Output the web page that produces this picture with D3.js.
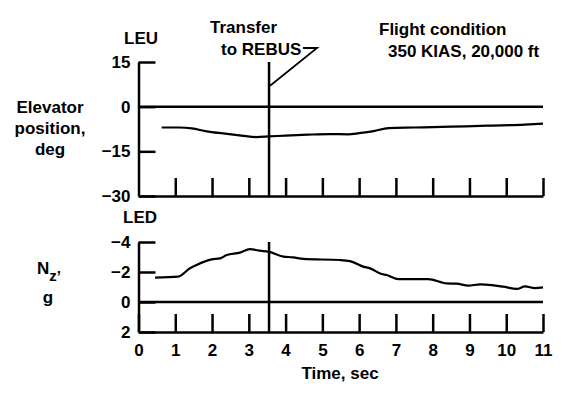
<!DOCTYPE html>
<html lang="en">
<head>
    <meta charset="UTF-8">
    <title>Elevator position and Nz - transfer to REBUS</title>
    <script src="https://d3js.org/d3.v7.min.js"></script>
    <style>
        body {
            margin: 0;
            padding: 0;
            background: #fff;
        }
        svg text {
            font-family: "Liberation Sans", Arial, Helvetica, sans-serif;
            font-weight: bold;
            font-size: 17px;
            fill: #000;
        }
        .axis path, .axis line {
            stroke: #000;
            stroke-width: 2.5px;
        }
        .trace {
            fill: none;
            stroke: #000;
            stroke-width: 2.2px;
            stroke-linejoin: round;
        }
        .ref {
            stroke: #000;
            stroke-width: 2.5px;
        }
    </style>
</head>
<body>
    <div id="canvas"></div>
    <script>
        // time ticks (sec)
        var timeTicks = [0, 1, 2, 3, 4, 5, 6, 7, 8, 9, 10, 11];
        var elevTicks = [15, 0, -15, -30];
        var nzTicks = [-4, -2, 0, 2];
        var transferTime = 3.55;

        // elevator position, deg
        var elevTime = [0.63, 1.1, 1.45, 1.85, 2.3, 2.8, 3.2, 3.55, 4.0, 4.6, 5.2, 5.7, 6.0, 6.4, 6.8, 7.5, 8.5, 9.5, 10.5, 11.0];
        var elevDeg  = [-7.0, -7.0, -7.3, -8.3, -9.0, -9.7, -10.2, -10.0, -9.7, -9.4, -9.2, -9.3, -8.9, -8.2, -7.2, -7.0, -6.7, -6.4, -6.0, -5.7];

        // normal acceleration Nz, g
        var nzTime = [0.45, 1.08, 1.4, 1.58, 1.99, 2.22, 2.4, 2.76, 3.03, 3.3, 3.53, 3.94, 4.21, 4.48, 5.48, 5.75, 6.11, 6.3, 6.61, 6.75, 7.07, 7.38, 7.88, 8.38, 8.65, 8.97, 9.29, 9.61, 9.92, 10.29, 10.51, 10.78, 11.0];
        var nzG    = [-1.62, -1.69, -2.25, -2.47, -2.84, -2.91, -3.13, -3.29, -3.53, -3.42, -3.36, -3.02, -2.98, -2.87, -2.8, -2.73, -2.36, -2.24, -1.87, -1.8, -1.53, -1.53, -1.53, -1.24, -1.22, -1.09, -1.18, -1.13, -1.02, -0.87, -1.04, -0.93, -0.98];

        var width = 562, height = 397;

        var svg = d3.select("#canvas")
            .append("svg")
            .attr("width", width)
            .attr("height", height);

        // scales
        var x = d3.scaleLinear().domain([0, 11]).range([138.5, 543]);
        var yTop = d3.scaleLinear().domain([-30, 15]).range([196, 62]);
        var yBot = d3.scaleLinear().domain([2, -4]).range([332, 242]);

        var intFmt = d3.format("d");

        // ---- top panel: elevator position
        svg.append("g")
            .attr("class", "axis")
            .attr("transform", "translate(" + x(0) + ",0)")
            .call(d3.axisLeft(yTop).tickValues(elevTicks).tickFormat(intFmt).tickSize(-17).tickSizeOuter(0).tickPadding(8))
            .call(function(g) { g.selectAll("text").attr("font-size", null).attr("font-family", null); });

        svg.append("g")
            .attr("class", "axis")
            .attr("transform", "translate(0," + yTop(-30) + ")")
            .call(d3.axisBottom(x).tickValues(timeTicks.slice(1)).tickSize(-18).tickSizeOuter(0).tickFormat(""));

        svg.append("line")
            .attr("class", "ref")
            .attr("x1", x(0)).attr("x2", x(11))
            .attr("y1", yTop(0)).attr("y2", yTop(0));

        svg.append("path")
            .datum(d3.zip(elevTime, elevDeg))
            .attr("class", "trace")
            .attr("d", d3.line().curve(d3.curveMonotoneX)
                .x(function(d) { return x(d[0]); })
                .y(function(d) { return yTop(d[1]); }));

        // ---- bottom panel: Nz
        svg.append("g")
            .attr("class", "axis")
            .attr("transform", "translate(" + x(0) + ",0)")
            .call(d3.axisLeft(yBot).tickValues(nzTicks).tickFormat(intFmt).tickSize(-17).tickSizeOuter(0).tickPadding(8))
            .call(function(g) { g.selectAll("text").attr("font-size", null).attr("font-family", null); });

        svg.append("g")
            .attr("class", "axis")
            .attr("transform", "translate(0," + yBot(2) + ")")
            .call(d3.axisBottom(x).tickValues(timeTicks).tickFormat(intFmt).tickSize(-18).tickSizeOuter(0).tickPadding(12))
            .call(function(g) { g.selectAll("text").attr("font-size", null).attr("font-family", null); });

        svg.append("line")
            .attr("class", "ref")
            .attr("x1", x(0)).attr("x2", x(11))
            .attr("y1", yBot(0)).attr("y2", yBot(0));

        svg.append("path")
            .datum(d3.zip(nzTime, nzG))
            .attr("class", "trace")
            .attr("d", d3.line().curve(d3.curveMonotoneX)
                .x(function(d) { return x(d[0]); })
                .y(function(d) { return yBot(d[1]); }));

        // ---- transfer marker
        svg.append("line")
            .attr("class", "ref")
            .attr("x1", x(transferTime)).attr("x2", x(transferTime))
            .attr("y1", yTop(15)).attr("y2", yTop(-30));

        svg.append("line")
            .attr("class", "ref")
            .attr("x1", x(transferTime)).attr("x2", x(transferTime))
            .attr("y1", yBot(-4)).attr("y2", yBot(2));

        svg.append("path")
            .attr("fill", "none")
            .attr("stroke", "#000")
            .attr("stroke-width", 1.8)
            .attr("d", d3.line()([[x(transferTime) + 1, yTop(7)], [x(transferTime) + 48, 48], [x(transferTime) + 34, 48]]));

        // ---- labels
        svg.append("text").attr("x", 210).attr("y", 27).attr("dy", "0.35em").text("Transfer");
        svg.append("text").attr("x", 221).attr("y", 49).attr("dy", "0.35em").text("to REBUS");

        svg.append("text").attr("x", 379).attr("y", 29).attr("dy", "0.35em").text("Flight condition");
        svg.append("text").attr("x", 388).attr("y", 51).attr("dy", "0.35em").text("350 KIAS, 20,000 ft");

        svg.append("text").attr("x", 141).attr("y", 38).attr("dy", "0.35em").attr("text-anchor", "middle").text("LEU");
        svg.append("text").attr("x", 140).attr("y", 217).attr("dy", "0.35em").attr("text-anchor", "middle").text("LED");

        var elevLabel = ["Elevator", "position,", "deg"];
        svg.selectAll("text.elevLabel")
            .data(elevLabel)
            .enter().append("text")
            .attr("class", "elevLabel")
            .attr("x", 50)
            .attr("y", function(d, i) { return 107 + i * 21; })
            .attr("dy", "0.35em")
            .attr("text-anchor", "middle")
            .text(function(d) { return d; });

        var nz = svg.append("text").attr("x", 37).attr("y", 268).attr("dy", "0.35em");
        nz.append("tspan").text("N");
        nz.append("tspan").attr("dy", 7).attr("font-size", "15px").text("z’");
        svg.append("text").attr("x", 48).attr("y", 297).attr("dy", "0.35em").attr("text-anchor", "middle").text("g");

        svg.append("text").attr("x", 340).attr("y", 373).attr("dy", "0.35em").attr("text-anchor", "middle").text("Time, sec");
    </script>
</body>
</html>
